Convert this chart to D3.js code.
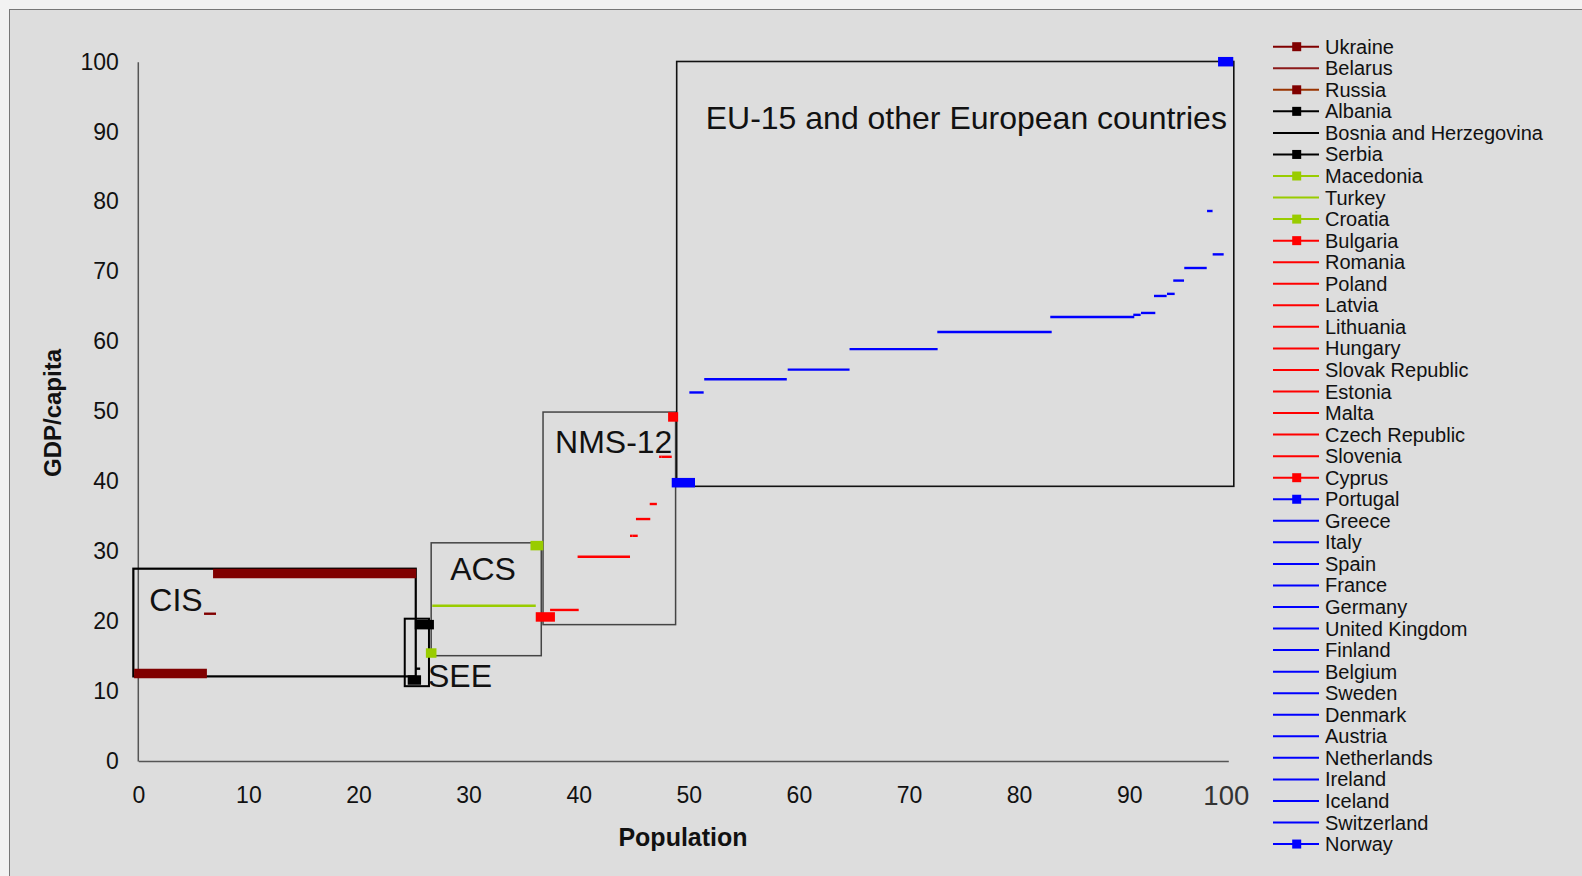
<!DOCTYPE html>
<html>
<head>
<meta charset="utf-8">
<script src="https://cdn.jsdelivr.net/npm/d3@7"></script>
<style>
html,body{margin:0;padding:0;background:#f2f2f2;}
svg{display:block;font-family:"Liberation Sans",Arial,Helvetica,sans-serif;}
</style>
</head>
<body>
<svg id="chart" width="1582" height="876"></svg>
<script>
// ---------- DATA ----------
const countries = ["Ukraine","Belarus","Russia","Albania","Bosnia and Herzegovina","Serbia",
  "Macedonia","Turkey","Croatia","Bulgaria","Romania","Poland","Latvia","Lithuania","Hungary",
  "Slovak Republic","Estonia","Malta","Czech Republic","Slovenia","Cyprus","Portugal","Greece",
  "Italy","Spain","France","Germany","United Kingdom","Finland","Belgium","Sweden","Denmark",
  "Austria","Netherlands","Ireland","Iceland","Switzerland","Norway"];
const groups = ["CIS","CIS","CIS","SEE","SEE","SEE","ACS","ACS","ACS",
  "NMS","NMS","NMS","NMS","NMS","NMS","NMS","NMS","NMS","NMS","NMS","NMS",
  "EU","EU","EU","EU","EU","EU","EU","EU","EU","EU","EU","EU","EU","EU","EU","EU","EU"];
// cumulative population share (start, end) and GDP/capita index
const popStart = [0.05,5.97,7.22,24.9,25.2,25.54,26.55,26.7,36.05,36.53,37.4,39.9,44.66,44.9,45.2,
  46.45,47.3,47.5,47.56,48.2,48.55,48.88,50.05,51.4,58.98,64.6,72.57,82.83,90.37,91.07,92.25,93.43,
  94.0,95.0,97.07,97.55,97.58,98.5];
const popEnd = [5.8,7.06,24.81,25.25,25.6,26.42,26.65,36.1,36.35,37.41,40.0,44.66,44.9,45.36,46.5,
  47.1,47.5,47.56,48.2,48.45,48.6,50.13,51.35,58.9,64.6,72.6,82.96,90.46,91.04,92.37,93.4,94.13,
  94.98,97.04,97.55,97.58,98.58,99.02];
const gdp = [12.5,21.06,26.8,11.58,13.2,19.5,15.44,22.2,30.8,20.6,21.6,29.2,32.2,32.2,34.6,
  36.75,43.5,43.5,43.5,43.5,49.2,39.8,52.7,54.6,55.96,58.9,61.35,63.5,63.8,64.07,66.5,66.8,
  68.7,70.5,78.65,78.65,72.45,100];
const markerCountries = ["Ukraine","Russia","Albania","Serbia","Macedonia","Croatia","Bulgaria",
  "Cyprus","Portugal","Norway"];
// region boxes: name, pop from/to, gdp from/to
const regionNames = ["CIS","SEE","ACS","NMS-12","EU-15 and other European countries"];
const regionX0 = [-0.45,24.2,26.6,36.76,48.9];
const regionX1 = [25.2,26.4,36.6,48.8,99.5];
const regionY0 = [12.1,10.7,15.06,19.5,39.28];
const regionY1 = [27.5,20.35,31.2,49.9,100.03];
const xTicks = [0,10,20,30,40,50,60,70,80,90];
const yTicks = [0,10,20,30,40,50,60,70,80,90,100];
const xEndLabel = "100";

// ---------- STYLE ----------
const groupColor = {CIS:"#800000",SEE:"#000000",ACS:"#99CC00",NMS:"#FF0000",EU:"#0000FF"};
const legendLineColor = {"Russia":"#993300","Belarus":"#8B1A1A"};

const svg = d3.select("#chart");
svg.append("rect").attr("x",9.5).attr("y",9.5).attr("width",1580).attr("height",880)
  .attr("fill","#dddddd").attr("stroke","#777").attr("stroke-width",1);

const x = d3.scaleLinear().domain([0,99]).range([138.3,1228.3]);
const y = d3.scaleLinear().domain([0,100]).range([761,61.7]);

// axes
const xAxis = svg.append("g").attr("transform",`translate(0,${y(0)})`)
  .call(d3.axisBottom(x).tickValues(xTicks).tickSize(0).tickPadding(0).tickFormat(d3.format("d")));
xAxis.select(".domain").attr("stroke","#555").attr("stroke-width",1.5);
xAxis.selectAll("text").attr("font-size",23).attr("fill","#111").attr("dy",null)
  .attr("y",42).attr("font-family","Liberation Sans, Arial, sans-serif");
svg.append("text").attr("x",x(99)-2).attr("y",y(0)+44).attr("text-anchor","middle")
  .attr("font-size",27.5).attr("fill","#333").text(xEndLabel);

const yAxis = svg.append("g").attr("transform",`translate(${x(0)-0.5},0)`)
  .call(d3.axisLeft(y).tickValues(yTicks).tickSize(0).tickPadding(19).tickFormat(d3.format("d")));
yAxis.select(".domain").attr("stroke","#555").attr("stroke-width",1.5);
yAxis.selectAll("text").attr("font-size",23).attr("fill","#111")
  .attr("font-family","Liberation Sans, Arial, sans-serif");

// axis titles
svg.append("text").attr("x",683).attr("y",846).attr("text-anchor","middle")
  .attr("font-size",25).attr("font-weight","bold").attr("fill","#111").text("Population");
svg.append("text").attr("transform","translate(61,413) rotate(-90)").attr("text-anchor","middle")
  .attr("font-size",24).attr("font-weight","bold").attr("fill","#111").text("GDP/capita");

// region boxes
const regions = regionNames.map((n,i)=>({name:n,x0:regionX0[i],x1:regionX1[i],y0:regionY0[i],y1:regionY1[i]}));
const boxStroke = [2.2,2,1.5,1.5,1.6];
const boxColor = ["#000","#000","#444","#444","#111"];
svg.append("g").selectAll("rect").data(regions).join("rect")
  .attr("x",d=>x(d.x0)).attr("y",d=>y(d.y1))
  .attr("width",d=>x(d.x1)-x(d.x0)).attr("height",d=>y(d.y0)-y(d.y1))
  .attr("fill","none").attr("stroke",(d,i)=>boxColor[i]).attr("stroke-width",(d,i)=>boxStroke[i]);

// series
const series = countries.map((c,i)=>({name:c,group:groups[i],x0:popStart[i],x1:popEnd[i],v:gdp[i],
  marker:markerCountries.includes(c)}));
const sg = svg.append("g");
sg.selectAll("line.thin").data(series.filter(d=>!d.marker)).join("line").attr("class","thin")
  .attr("x1",d=>x(d.x0)).attr("x2",d=>x(d.x1)).attr("y1",d=>y(d.v)).attr("y2",d=>y(d.v))
  .attr("stroke",d=>groupColor[d.group]).attr("stroke-width",2.4);
sg.selectAll("line.thick").data(series.filter(d=>d.marker)).join("line").attr("class","thick")
  .attr("x1",d=>x(d.x0)).attr("x2",d=>x(d.x1)).attr("y1",d=>y(d.v)).attr("y2",d=>y(d.v))
  .attr("stroke",d=>groupColor[d.group]).attr("stroke-width",9.5).attr("stroke-linecap","square");

// region labels
const labelPos = [
  {dx:x(-0.45)+16, dy:y(27.5)+42},
  {dx:x(26.4)-1, dy:y(10.7)+1},
  {dx:x(26.6)+19, dy:y(31.2)+37},
  {dx:x(36.76)+12, dy:y(49.9)+41},
  {dx:x(48.9)+29, dy:y(100.03)+68}
];
svg.append("g").selectAll("text").data(regions).join("text")
  .attr("x",(d,i)=>labelPos[i].dx).attr("y",(d,i)=>labelPos[i].dy)
  .attr("font-size",32).attr("fill","#111").text(d=>d.name);

// legend
const lg = svg.append("g");
const ly0 = 46.7, lstep = 21.55;
series.forEach((d,i)=>{
  const yy = ly0 + i*lstep;
  const col = legendLineColor[d.name] || groupColor[d.group];
  lg.append("line").attr("x1",1273).attr("x2",1319).attr("y1",yy).attr("y2",yy)
    .attr("stroke",col).attr("stroke-width",2);
  if(d.marker){
    lg.append("rect").attr("x",1296.7-4.5).attr("y",yy-4.5).attr("width",9).attr("height",9)
      .attr("fill",groupColor[d.group]);
  }
  lg.append("text").attr("x",1325).attr("y",yy).attr("dy","0.35em")
    .attr("font-size",20).attr("fill","#111").text(d.name);
});
</script>
</body>
</html>
